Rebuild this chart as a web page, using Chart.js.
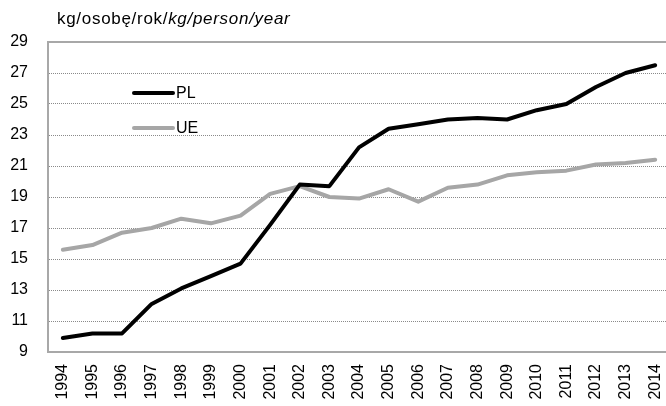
<!DOCTYPE html>
<html>
<head>
<meta charset="utf-8">
<script src="https://cdn.jsdelivr.net/npm/chart.js@4/dist/chart.umd.min.js"></script>
<style>
  html, body { margin: 0; padding: 0; background: #fff; overflow: hidden; width: 666px; height: 406px; }
  #wrap { position: absolute; left: 0; top: 0; width: 670px; height: 406px; }
  #title { position: absolute; left: 57px; top: 10px; font: 17px "Liberation Sans", Arial, sans-serif; letter-spacing: 0.7px; line-height: 18px; color: #000; white-space: nowrap; }
  #title i { font-style: italic; }
</style>
</head>
<body>
<div id="wrap"><canvas id="c" width="670" height="406"></canvas></div>
<div id="title">kg/osobę/rok/<i>kg/person/year</i></div>
<script>
const years = ["1994","1995","1996","1997","1998","1999","2000","2001","2002","2003","2004","2005","2006","2007","2008","2009","2010","2011","2012","2013","2014"];
const seriesPL = [9.9,10.2,10.2,12.1,13.1,13.9,14.7,17.2,19.8,19.7,22.2,23.4,23.7,24.0,24.1,24.0,24.6,25.0,26.1,27.0,27.5];
const seriesUE = [15.6,15.9,16.7,17.0,17.6,17.3,17.8,19.2,19.7,19.0,18.9,19.5,18.7,19.6,19.8,20.4,20.6,20.7,21.1,21.2,21.4];
const seriesNames = ["PL","UE"];
const yTicks = [9,11,13,15,17,19,21,23,25,27,29];

const colPL = "#000000";
const colUE = "#a6a6a6";
const axisCol = "#a8a8a8";
const FONT = "'Liberation Sans', Arial, sans-serif";

const insideLegend = {
  id: "insideLegend",
  beforeDatasetsDraw(chart) {
    const ctx = chart.ctx, a = chart.chartArea;
    ctx.save();
    ctx.strokeStyle = axisCol;
    ctx.lineWidth = 2;
    ctx.beginPath();
    ctx.moveTo(a.left, a.top);
    ctx.lineTo(a.right, a.top);
    ctx.stroke();
    ctx.restore();
  },
  afterDatasetsDraw(chart) {
    const ctx = chart.ctx;
    const items = [[seriesNames[0], colPL, 93], [seriesNames[1], colUE, 128]];
    ctx.save();
    ctx.font = "16px " + FONT;
    ctx.textBaseline = "middle";
    items.forEach(([t, c, y]) => {
      ctx.strokeStyle = c;
      ctx.lineWidth = 4;
      ctx.lineCap = "round";
      ctx.beginPath();
      ctx.moveTo(134, y);
      ctx.lineTo(173, y);
      ctx.stroke();
      ctx.fillStyle = "#000";
      ctx.fillText(t, 176, y + 1);
    });
    ctx.restore();
  }
};

new Chart(document.getElementById("c"), {
  type: "line",
  data: {
    labels: years,
    datasets: [
      { label: seriesNames[0], data: seriesPL, borderColor: colPL, borderWidth: 4, pointRadius: 0, tension: 0, borderCapStyle: "round", borderJoinStyle: "round" },
      { label: seriesNames[1], data: seriesUE, borderColor: colUE, borderWidth: 4, pointRadius: 0, tension: 0, borderCapStyle: "round", borderJoinStyle: "round" }
    ]
  },
  options: {
    responsive: false,
    animation: false,
    layout: { padding: { left: 0, right: 0, top: 42, bottom: 0 } },
    plugins: { legend: { display: false }, tooltip: { enabled: false } },
    scales: {
      x: {
        offset: true,
        grid: { display: false, drawTicks: false },
        border: { display: true, color: axisCol, width: 2 },
        ticks: { color: "#000", font: { family: FONT, size: 16 }, minRotation: 90, maxRotation: 90, padding: 12, autoSkip: false },
        afterFit(s) { s.height = 54; s.paddingLeft = 0; s.paddingRight = 0; }
      },
      y: {
        min: 9, max: 29,
        afterBuildTicks(s) { s.ticks = yTicks.map(v => ({ value: v })); },
        grid: { drawTicks: false, color: ctx => (ctx.tick && (ctx.tick.value === 9 || ctx.tick.value === 29)) ? "rgba(0,0,0,0)" : "#8a8a8a", lineWidth: 1 },
        border: { display: true, color: axisCol, width: 2, dash: [1, 1] },
        ticks: { color: "#000", font: { family: FONT, size: 16 }, padding: 20 },
        afterFit(s) { s.width = 48; }
      }
    }
  },
  plugins: [insideLegend]
});
</script>
</body>
</html>
